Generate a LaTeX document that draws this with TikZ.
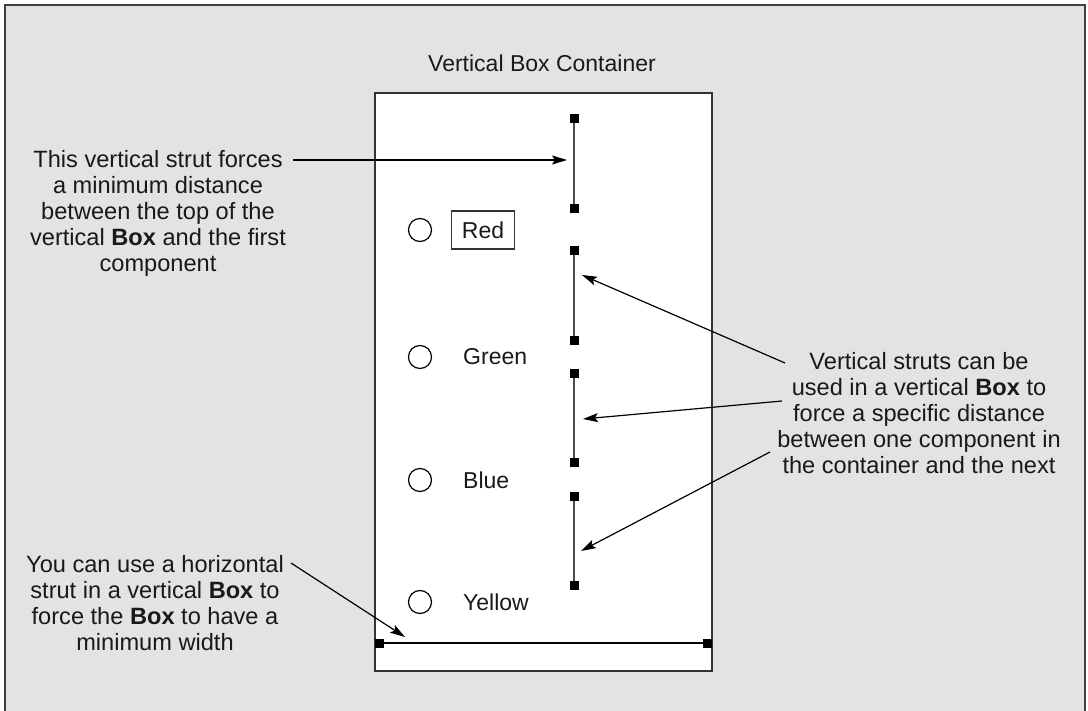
\documentclass[tikz,border=0pt]{standalone}
\usepackage{fontspec}
\setmainfont{Liberation Sans}
\usetikzlibrary{arrows.meta}
\begin{document}
\begin{tikzpicture}[x=1pt,y=-1pt,
  lbl/.style={font=\fontsize{23}{26}\selectfont, inner sep=0pt, text=black!90},
  note/.style={font=\fontsize{23.6}{26}\selectfont, inner sep=0pt, text=black!90, align=center},
  sq/.style={fill=black, minimum size=9pt, inner sep=0pt, outer sep=0pt},
  strutline/.style={draw=black!70, line width=2pt},
  ptr/.style={draw=black, line width=1.2pt, -{Stealth[length=15pt,width=9pt,inset=3pt]}},
  rb/.style={circle, draw=black, line width=1.2pt, minimum size=23pt, inner sep=0pt}]
\useasboundingbox (0,0) rectangle (1088,711);
% frame
\path[fill=black!11, draw=black!75, line width=2pt] (5,5) rectangle (1085,730);
% container
\node[lbl] (title) at (542,63) {Vertical Box Container};
\path[fill=white, draw=black!80, line width=1.4pt] (375,93) rectangle (712,671);
% struts
\node[sq] (s1t) at (574,119) {};
\node[sq] (s1b) at (574,209) {};
\node[sq] (s2t) at (574,251) {};
\node[sq] (s2b) at (574,341) {};
\node[sq] (s3t) at (574,374) {};
\node[sq] (s3b) at (574,463) {};
\node[sq] (s4t) at (574,496) {};
\node[sq] (s4b) at (574,585) {};
\draw[strutline] (s1t) -- (s1b);
\draw[strutline] (s2t) -- (s2b);
\draw[strutline] (s3t) -- (s3b);
\draw[strutline] (s4t) -- (s4b);
\node[sq] (hl) at (379,643) {};
\node[sq] (hr) at (707,643) {};
\draw[draw=black, line width=1.5pt] (hl) -- (hr);
% radio buttons
\node[rb] (c1) at (420,230) {};
\node[rb] (c2) at (420,357) {};
\node[rb] (c3) at (420,480) {};
\node[rb] (c4) at (420,602) {};
\node[lbl, draw=black!80, line width=1.2pt, minimum width=63pt, minimum height=38pt] (red) at (483,230) {Red};
\node[lbl, anchor=west] (green) at (463,357) {Green};
\node[lbl, anchor=west] (blue) at (463,480) {Blue};
\node[lbl, anchor=west] (yellow) at (463,602) {Yellow};
% notes
\node[note] (n1) at (158,213) {This vertical strut forces\\a minimum distance\\between the top of the\\vertical \textbf{Box} and the first\\component};
\node[note] (n2) at (919,413) {Vertical struts can be\\used in a vertical \textbf{Box} to\\force a specific distance\\between one component in\\the container and the next};
\node[note] (n3) at (155,603) {You can use a horizontal\\strut in a vertical \textbf{Box} to\\force the \textbf{Box} to have a\\minimum width};
% arrow endpoints
\coordinate (a1s) at (293,160);
\coordinate (a1e) at (567,160);
\coordinate (a2s) at (785,363);
\coordinate (a2e) at (582,275);
\coordinate (a3s) at (782,401);
\coordinate (a3e) at (583,419);
\coordinate (a4s) at (770,452);
\coordinate (a4e) at (581,551);
\coordinate (a5s) at (291,563);
\coordinate (a5e) at (405,637);
\draw[ptr] (a1s) -- (a1e);
\draw[ptr] (a2s) -- (a2e);
\draw[ptr] (a3s) -- (a3e);
\draw[ptr] (a4s) -- (a4e);
\draw[ptr] (a5s) -- (a5e);
\end{tikzpicture}
\end{document}
